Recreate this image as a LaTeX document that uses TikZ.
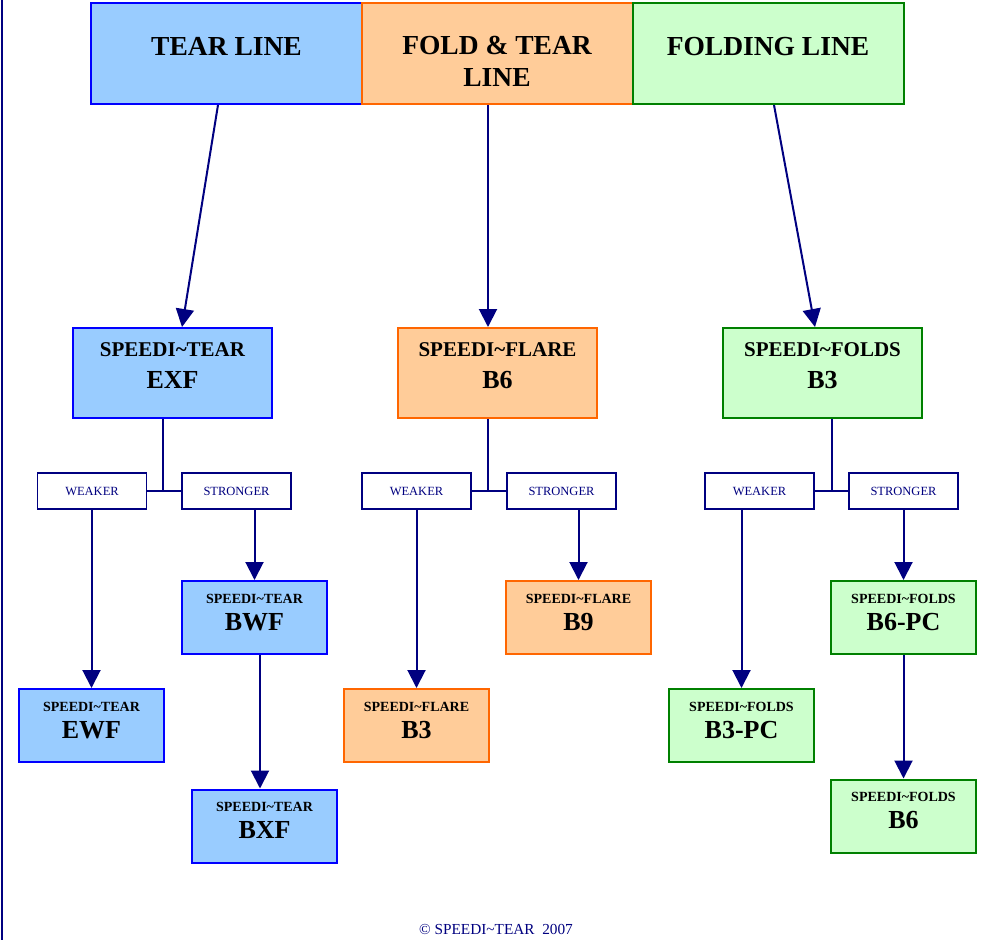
\documentclass[tikz,border=0pt]{standalone}
\usepackage{fontspec}
\setmainfont{Liberation Serif}
\usetikzlibrary{arrows.meta,calc}
\definecolor{bfill}{HTML}{99CCFF}
\definecolor{bline}{HTML}{0000FF}
\definecolor{ofill}{HTML}{FFCC99}
\definecolor{oline}{HTML}{FF6600}
\definecolor{gfill}{HTML}{CCFFCC}
\definecolor{gline}{HTML}{008000}
\definecolor{navy}{HTML}{000080}
\tikzset{
  boxbase/.style={rectangle, line width=2pt, inner sep=0pt},
  topbox/.style={boxbase, minimum width=271pt, minimum height=101pt},
  midbox/.style={boxbase, minimum width=199pt, minimum height=90pt},
  smallbox/.style={boxbase, minimum width=145pt, minimum height=73pt},
  tblue/.style={fill=bfill, draw=bline},
  torange/.style={fill=ofill, draw=oline},
  tgreen/.style={fill=gfill, draw=gline},
  choice/.style={rectangle, draw=navy, line width=1.8pt, fill=white, inner sep=0pt,
    minimum width=109pt, minimum height=36pt, text=navy, font=\fontsize{12.5}{14}\selectfont},
  arr/.style={draw=navy, line width=2pt, -{Triangle[width=18pt,length=18pt]}},
  link/.style={draw=navy, line width=2pt},
  toptext/.style={font=\bfseries\fontsize{27.5}{32}\selectfont, anchor=base, inner sep=0pt},
  midsmall/.style={font=\bfseries\fontsize{21}{24}\selectfont, anchor=base, inner sep=0pt},
  tinytext/.style={font=\bfseries\fontsize{14}{16}\selectfont, anchor=base, inner sep=0pt},
  bigtext/.style={font=\bfseries\fontsize{26}{30}\selectfont, anchor=base, inner sep=0pt},
}
\newcommand\mkmid[6]{%
  \node[midbox,#2] (#1) at (#3,#4) {};
  \node[midsmall] (#1-a) at ($(#1.north)+(0,29)$) {#5};
  \node[bigtext] (#1-b) at ($(#1.north)+(0,61)$) {#6};
}
\newcommand\mkprod[6]{%
  \node[smallbox,#2] (#1) at (#3,#4) {};
  \node[tinytext] (#1-a) at ($(#1.north)+(0,23)$) {#5};
  \node[bigtext] (#1-b) at ($(#1.north)+(0,50)$) {#6};
}
\begin{document}
\begin{tikzpicture}[x=1pt,y=-1pt]
\useasboundingbox (0,0) rectangle (988,940);
\fill[white] (0,0) rectangle (988,940);
% left frame line
\draw[navy, line width=2pt] (1.5,0) -- (1.5,940);

% top row
\node[topbox,tblue] (TEAR) at (226.5,53.5) {};
\node[topbox,torange] (FT) at (497,53.5) {};
\node[topbox,tgreen] (FOLD) at (768,53.5) {};
\node[toptext] (TEAR-t) at (226.5,55) {TEAR LINE};
\node[toptext] (FT-t1) at (497,54) {FOLD \& TEAR};
\node[toptext] (FT-t2) at (497,86) {LINE};
\node[toptext] (FOLD-t) at (768,55) {FOLDING LINE};

% second row
\mkmid{EXF}{tblue}{172.5}{373}{SPEEDI\textasciitilde TEAR}{EXF}
\mkmid{FB6}{torange}{497.5}{373}{SPEEDI\textasciitilde FLARE}{B6}
\mkmid{GB3}{tgreen}{822.5}{373}{SPEEDI\textasciitilde FOLDS}{B3}

\draw[arr] ([xshift=-8.5pt]TEAR.south) -- ([xshift=9.5pt]EXF.north);
\draw[arr] ([xshift=-9pt]FT.south) -- ([xshift=-9.5pt]FB6.north);
\draw[arr] ([xshift=6pt]FOLD.south) -- ([xshift=-7.5pt]GB3.north);

% weaker / stronger
\node[choice] (W1) at (92,491) {WEAKER};
\node[choice] (S1) at (236.5,491) {STRONGER};
\node[choice] (W2) at (416.5,491) {WEAKER};
\node[choice] (S2) at (561.5,491) {STRONGER};
\node[choice] (W3) at (759.5,491) {WEAKER};
\node[choice] (S3) at (903.5,491) {STRONGER};

\coordinate (j1) at ([xshift=-9.5pt]EXF.south);
\coordinate (j2) at ([xshift=-9.5pt]FB6.south);
\coordinate (j3) at ([xshift=9pt]GB3.south);
\draw[link] (j1) -- (j1 |- W1.east);
\draw[link] (W1.east) -- (S1.west);
\draw[link] (j2) -- (j2 |- W2.east);
\draw[link] (W2.east) -- (S2.west);
\draw[link] (j3) -- (j3 |- W3.east);
\draw[link] (W3.east) -- (S3.west);

% products
\mkprod{EWF}{tblue}{91.5}{725.5}{SPEEDI\textasciitilde TEAR}{EWF}
\mkprod{BWF}{tblue}{254.5}{617.5}{SPEEDI\textasciitilde TEAR}{BWF}
\mkprod{BXF}{tblue}{264.5}{826}{SPEEDI\textasciitilde TEAR}{BXF}
\mkprod{FB3}{torange}{416.5}{725.5}{SPEEDI\textasciitilde FLARE}{B3}
\mkprod{FB9}{torange}{578.5}{617.5}{SPEEDI\textasciitilde FLARE}{B9}
\mkprod{GB3PC}{tgreen}{741.5}{725.5}{SPEEDI\textasciitilde FOLDS}{B3-PC}
\mkprod{GB6PC}{tgreen}{903.5}{617.5}{SPEEDI\textasciitilde FOLDS}{B6-PC}
\mkprod{GB6}{tgreen}{903.5}{816}{SPEEDI\textasciitilde FOLDS}{B6}

\draw[arr] (W1.south -| EWF.north) -- (EWF.north);
\draw[arr] (S1.south -| BWF.north) -- (BWF.north);
\draw[arr] ([xshift=5.5pt]BWF.south) -- ([xshift=5.5pt]BWF.south |- BXF.north);
\draw[arr] (W2.south -| FB3.north) -- (FB3.north);
\draw[arr] (S2.south -| FB9.north) -- (FB9.north);
\draw[arr] (W3.south -| GB3PC.north) -- (GB3PC.north);
\draw[arr] (S3.south -| GB6PC.north) -- (GB6PC.north);
\draw[arr] (GB6PC.south) -- (GB6.north);

% footer
\node[anchor=base, text=navy, font=\fontsize{15.3}{17}\selectfont, inner sep=0pt] (copy) at (496,934) {©~SPEEDI\textasciitilde TEAR\ \ 2007};
\end{tikzpicture}
\end{document}
